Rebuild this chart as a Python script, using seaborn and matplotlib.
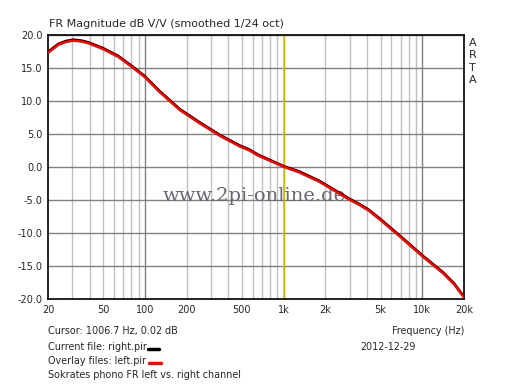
import numpy as np
import pandas as pd
import matplotlib
matplotlib.use("Agg")
import matplotlib.pyplot as plt
import seaborn as sns
from matplotlib.ticker import FixedLocator, NullFormatter

freq = [20, 23.7, 27, 30.5, 35, 39, 50, 64, 80, 100, 127, 179, 249, 348, 484,
        567, 657, 1010, 1290, 1795, 2500, 2950, 3550, 4100, 4970, 6940, 10100,
        14120, 17000, 20000]
left_db = [17.3, 18.5, 18.95, 19.15, 19.0, 18.75, 17.85, 16.7, 15.2, 13.6, 11.4,
           8.6, 6.6, 4.7, 3.1, 2.5, 1.7, 0.0, -0.8, -2.2, -4.0, -4.9, -5.8, -6.6,
           -8.0, -10.6, -13.6, -16.1, -17.8, -19.8]
right_db = [17.45, 18.65, 19.1, 19.3, 19.15, 18.9, 18.0, 16.85, 15.35, 13.75, 11.55,
            8.75, 6.75, 4.85, 3.25, 2.65, 1.85, 0.1, -0.65, -2.05, -3.85, -4.75, -5.65,
            -6.45, -7.85, -10.45, -13.45, -15.95, -17.65, -19.65]

y_ticks = [20, 15, 10, 5, 0, -5, -10, -15, -20]
y_labels = ["20.0", "15.0", "10.0", "5.0", "0.0", "-5.0", "-10.0", "-15.0", "-20.0"]
x_ticks = [20, 50, 100, 200, 500, 1000, 2000, 5000, 10000, 20000]
x_labels = ["20", "50", "100", "200", "500", "1k", "2k", "5k", "10k", "20k"]

df = pd.DataFrame({
    "freq": freq * 2,
    "db": right_db + left_db,
    "file": ["right"] * len(freq) + ["left"] * len(freq),
})

sns.set_style("white")
plt.rcParams["font.family"] = ["DejaVu Sans"]

fig = plt.figure(figsize=(5.12, 3.86), dpi=100)
ax = fig.add_axes([48 / 512, 1 - 299 / 386, 416 / 512, 264 / 386])
ax.set_xscale("log")
ax.set_xlim(20, 20000)
ax.set_ylim(-20, 20)

# grid
minor = [m * d for d in (10, 100, 1000, 10000) for m in range(2, 10) if 20 < m * d < 20000]
for f in minor:
    ax.axvline(f, color="#c0c0c0", lw=1, zorder=1)
for f in (100, 1000, 10000):
    ax.axvline(f, color="#808080", lw=1, zorder=1)
for v in y_ticks:
    ax.axhline(v, color="#808080", lw=1, zorder=1)
ax.axvline(1006.7, color="#d4c800", lw=1.2, zorder=2)

sns.lineplot(data=df, x="freq", y="db", hue="file",
             palette={"right": "black", "left": "#ff0000"},
             linewidth=1.8, legend=False, ax=ax, zorder=3)

ax.xaxis.set_major_locator(FixedLocator(x_ticks))
ax.xaxis.set_minor_formatter(NullFormatter())
ax.set_xticklabels(x_labels)
ax.set_yticks(y_ticks)
ax.set_yticklabels(y_labels)
ax.tick_params(axis="both", length=0, labelsize=7, pad=4)
ax.set_xlabel("")
ax.set_ylabel("")
for s in ax.spines.values():
    s.set_color("black")
    s.set_linewidth(1.2)

ax.text(0.495, 0.39, "www.2pi-online.de", transform=ax.transAxes, ha="center", va="center",
        fontsize=14, color="#686870", family="DejaVu Serif", zorder=2)

fig.text(49 / 512, 1 - 24 / 386, "FR Magnitude dB V/V (smoothed 1/24 oct)", fontsize=8,
         ha="left", va="center")
for i, ch in enumerate(["A", "R", "T", "A"]):
    fig.text(469 / 512, 1 - (43 + i * 12.4) / 386, ch, fontsize=8, ha="left", va="center")

fs = 6.9
fig.text(48 / 512, 1 - 331 / 386, "Cursor: 1006.7 Hz, 0.02 dB", fontsize=fs, ha="left", va="center")
fig.text(464 / 512, 1 - 331 / 386, "Frequency (Hz)", fontsize=fs, ha="right", va="center")
fig.text(48 / 512, 1 - 347.5 / 386, "Current file: right.pir", fontsize=fs, ha="left", va="center")
fig.text(360 / 512, 1 - 347.5 / 386, "2012-12-29", fontsize=fs, ha="left", va="center")
fig.text(48 / 512, 1 - 361.5 / 386, "Overlay files: left.pir", fontsize=fs, ha="left", va="center")
fig.text(48 / 512, 1 - 375.5 / 386, "Sokrates phono FR left vs. right channel", fontsize=fs,
         ha="left", va="center")
fig.add_artist(plt.Line2D([148 / 512, 159 / 512], [1 - 348.5 / 386] * 2, color="black", lw=2.5))
fig.add_artist(plt.Line2D([149 / 512, 161 / 512], [1 - 362.5 / 386] * 2, color="#ff0000", lw=2.5))

fig.savefig("out.png", dpi=100)
